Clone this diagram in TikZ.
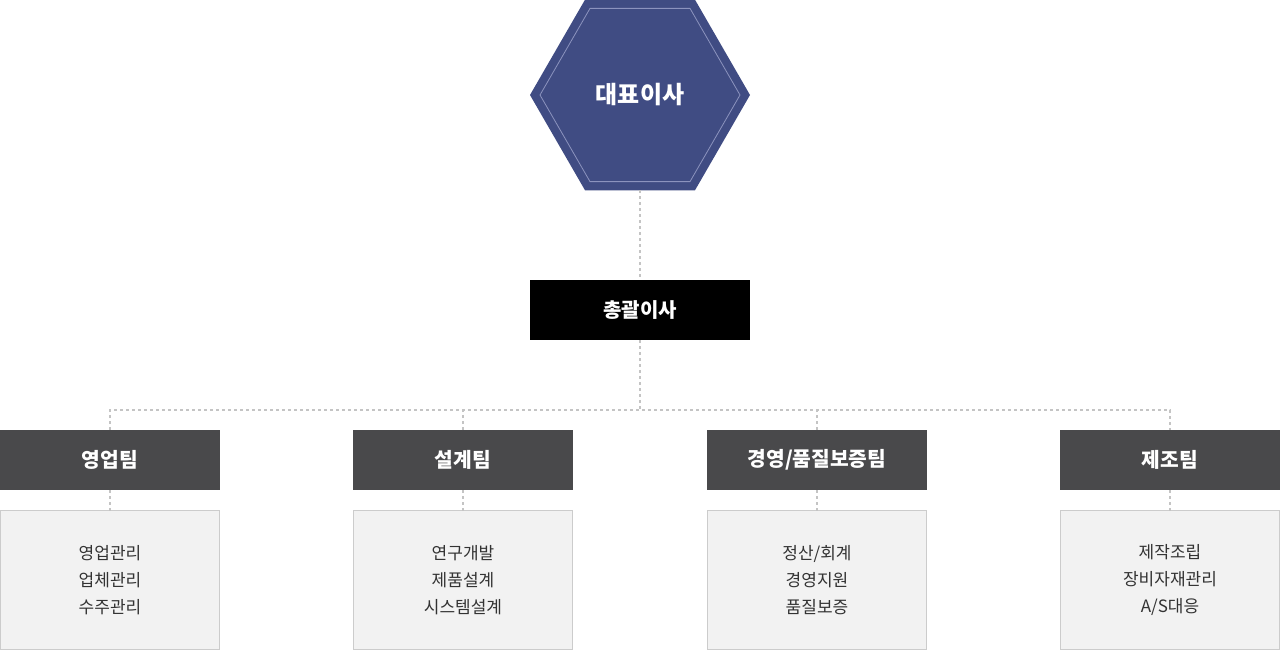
\documentclass[tikz,border=0pt]{standalone}
\usepackage{fontspec}
\setmainfont{Noto Sans CJK KR}
\usetikzlibrary{shapes.geometric}
\definecolor{hexblue}{HTML}{404C83}
\definecolor{hexline}{HTML}{8C93BE}
\definecolor{teamgray}{HTML}{49494B}
\definecolor{dutyfill}{HTML}{F2F2F2}
\definecolor{dutyline}{HTML}{CCCCCC}
\definecolor{dotgray}{HTML}{C4C4C4}
\definecolor{txtgray}{HTML}{333333}
\tikzset{
  hexo/.style={regular polygon, regular polygon sides=6, minimum size=220pt, inner sep=0pt, outer sep=0pt, fill=hexblue, text=white, font=\fontsize{24}{28}\selectfont\bfseries},
  hexi/.style={regular polygon, regular polygon sides=6, minimum size=200pt, inner sep=0pt, outer sep=0pt, draw=hexline, line width=0.8pt},
  topbox/.style={rectangle, minimum width=220pt, minimum height=60pt, inner sep=0pt, outer sep=0pt, fill=black, text=white, font=\fontsize{20}{24}\selectfont\bfseries},
  teambox/.style={rectangle, minimum width=220pt, minimum height=60pt, inner sep=0pt, outer sep=0pt, fill=teamgray, text=white, font=\fontsize{20.3}{24}\selectfont\bfseries},
  dutybox/.style={rectangle, minimum width=219pt, minimum height=139pt, inner sep=0pt, outer sep=0pt, fill=dutyfill, draw=dutyline, line width=1pt, text=txtgray, align=center, font=\fontsize{17}{27}\selectfont},
  dots/.style={draw=dotgray, line width=2pt, dash pattern=on 3pt off 3pt}
}
\begin{document}
\begin{tikzpicture}[x=1pt,y=-1pt]
\useasboundingbox (0,0) rectangle (1280,650);
\node[hexo] (ceo) at (640,95) {대표이사};
\node[hexi] (ceoin) at (640,95) {};
\node[topbox] (gm) at (640,310) {총괄이사};
\coordinate (j) at (640,410);
\node[teambox] (t1) at (110,460) {영업팀};
\node[teambox] (t2) at (463,460) {설계팀};
\node[teambox] (t3) at (817,460) {경영/품질보증팀};
\node[teambox] (t4) at (1170,460) {제조팀};
\node[dutybox] (d1) at (110,580) {영업관리\\업체관리\\수주관리};
\node[dutybox] (d2) at (463,580) {연구개발\\제품설계\\시스템설계};
\node[dutybox] (d3) at (817,580) {정산/회계\\경영지원\\품질보증};
\node[dutybox] (d4) at (1170,580) {제작조립\\장비자재관리\\A/S대응};
\draw[dots] (ceo) -- (gm);
\draw[dots] (gm) -- (j);
\draw[dots] (t1.north) |- (j) -| (t4.north);
\draw[dots] (t2.north) -- (t2.north |- j);
\draw[dots] (t3.north) -- (t3.north |- j);
\draw[dots] (t1) -- (d1);
\draw[dots] (t2) -- (d2);
\draw[dots] (t3) -- (d3);
\draw[dots] (t4) -- (d4);
\end{tikzpicture}
\end{document}
